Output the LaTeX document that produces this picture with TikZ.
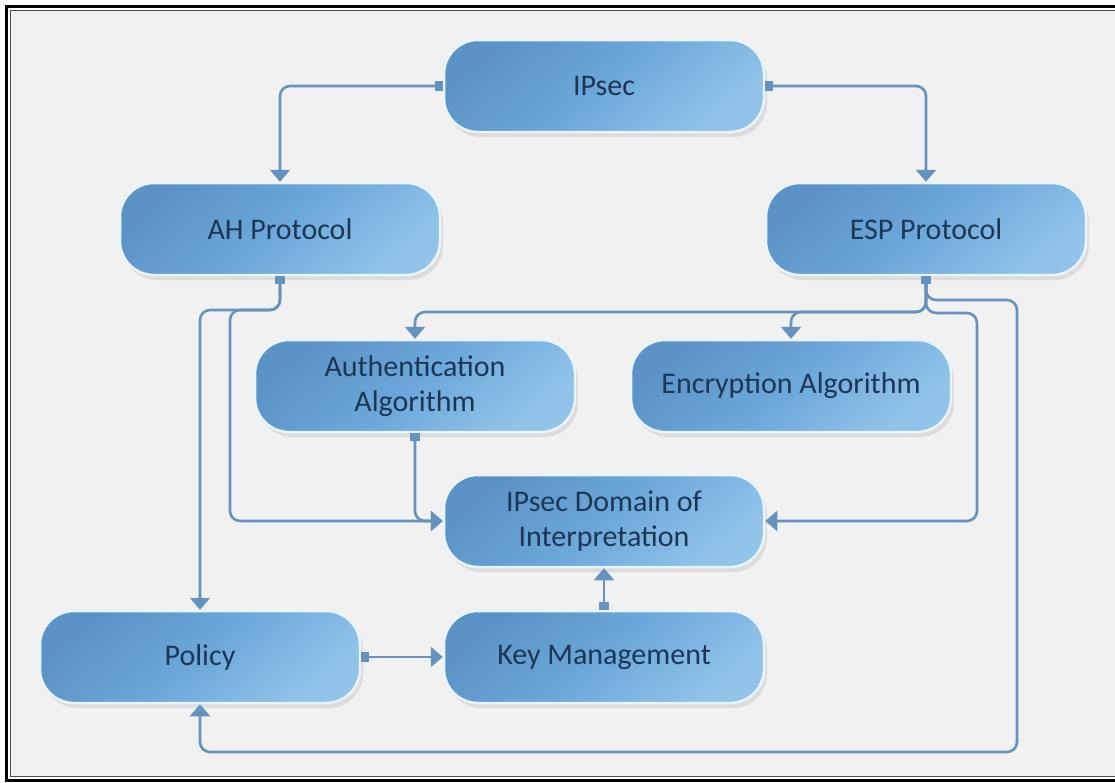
\documentclass[tikz,border=0pt]{standalone}
\usepackage{fontspec}
\setmainfont{Carlito}
\usetikzlibrary{arrows.meta,shadows,calc}
\definecolor{bgc}{HTML}{F1F1F1}
\definecolor{dark}{HTML}{5B93C6}
\definecolor{mid}{HTML}{6CA8DA}
\definecolor{light}{HTML}{92C4EA}
\definecolor{rim}{HTML}{E9F4FC}
\definecolor{txt}{HTML}{1C3656}
\definecolor{lnc}{HTML}{6592BE}
\tikzset{
  box/.style={rounded corners=34pt, minimum width=320pt, minimum height=92pt,
    draw=rim, line width=2.5pt,
    top color=dark, bottom color=light, middle color=mid, shading angle=40,
    drop shadow={shadow xshift=3pt, shadow yshift=-5pt, opacity=0.15, fill=black!60},
    font=\fontsize{30}{35}\selectfont, text=txt, align=center, inner sep=0pt},
  conn/.style={draw=lnc, line width=2.6pt, rounded corners=10pt,
    {Square[length=8pt,width=10pt]}-{Triangle[width=20pt,length=12pt]}}
}
\begin{document}
\begin{tikzpicture}[x=1pt,y=-1pt]
\useasboundingbox (0,0) rectangle (1115,782);
\clip (0,0) rectangle (1115,782);
\fill[white] (0,0) rectangle (1115,782);
\fill[bgc] (10.5,10.5) rectangle (1130,776.5);
\draw[line width=3pt, black] (6.5,6.5) rectangle (1130,780);
\draw[line width=1.2pt, black!70] (10.5,10.5) rectangle (1130,776.5);

\node[box] (ipsec) at (604,86) {IPsec};
\node[box] (ah) at (280,229) {AH Protocol};
\node[box] (esp) at (926,229) {ESP Protocol};
\node[box] (auth) at (415,386) {Authentication\\Algorithm};
\node[box] (enc) at (791,386) {Encryption Algorithm};
\node[box] (doi) at (604,521) {IPsec Domain of\\Interpretation};
\node[box] (policy) at (200,657) {Policy};
\node[box] (km) at (604,657) {Key Management};

\coordinate (ahj) at (230,310);
\coordinate (ahp) at (200,310);
\coordinate (espa) at (415,312);
\coordinate (espe) at (791,312);
\coordinate (espr) at (1017,300);
\coordinate (espd) at (977,313);
\coordinate (bot) at (200,752);

\draw[conn] (ipsec.west) -| (ah.north);
\draw[conn] (ipsec.east) -| (esp.north);
\draw[conn] (ah.south) |- (ahp) -- (policy.north);
\draw[conn] (ah.south) |- (ahj) |- (doi.west);
\draw[conn] (auth.south) |- (doi.west);
\draw[conn] (esp.south) |- (espa) -- (auth.north);
\draw[conn] (esp.south) |- (espe) -- (enc.north);
\draw[conn] (esp.south) |- (espr) |- (bot) -- (policy.south);
\draw[conn] (esp.south) |- (espd) |- (doi.east);
\draw[conn] (policy.east) -- (km.west);
\draw[conn] (km.north) -- (doi.south);
\end{tikzpicture}
\end{document}
